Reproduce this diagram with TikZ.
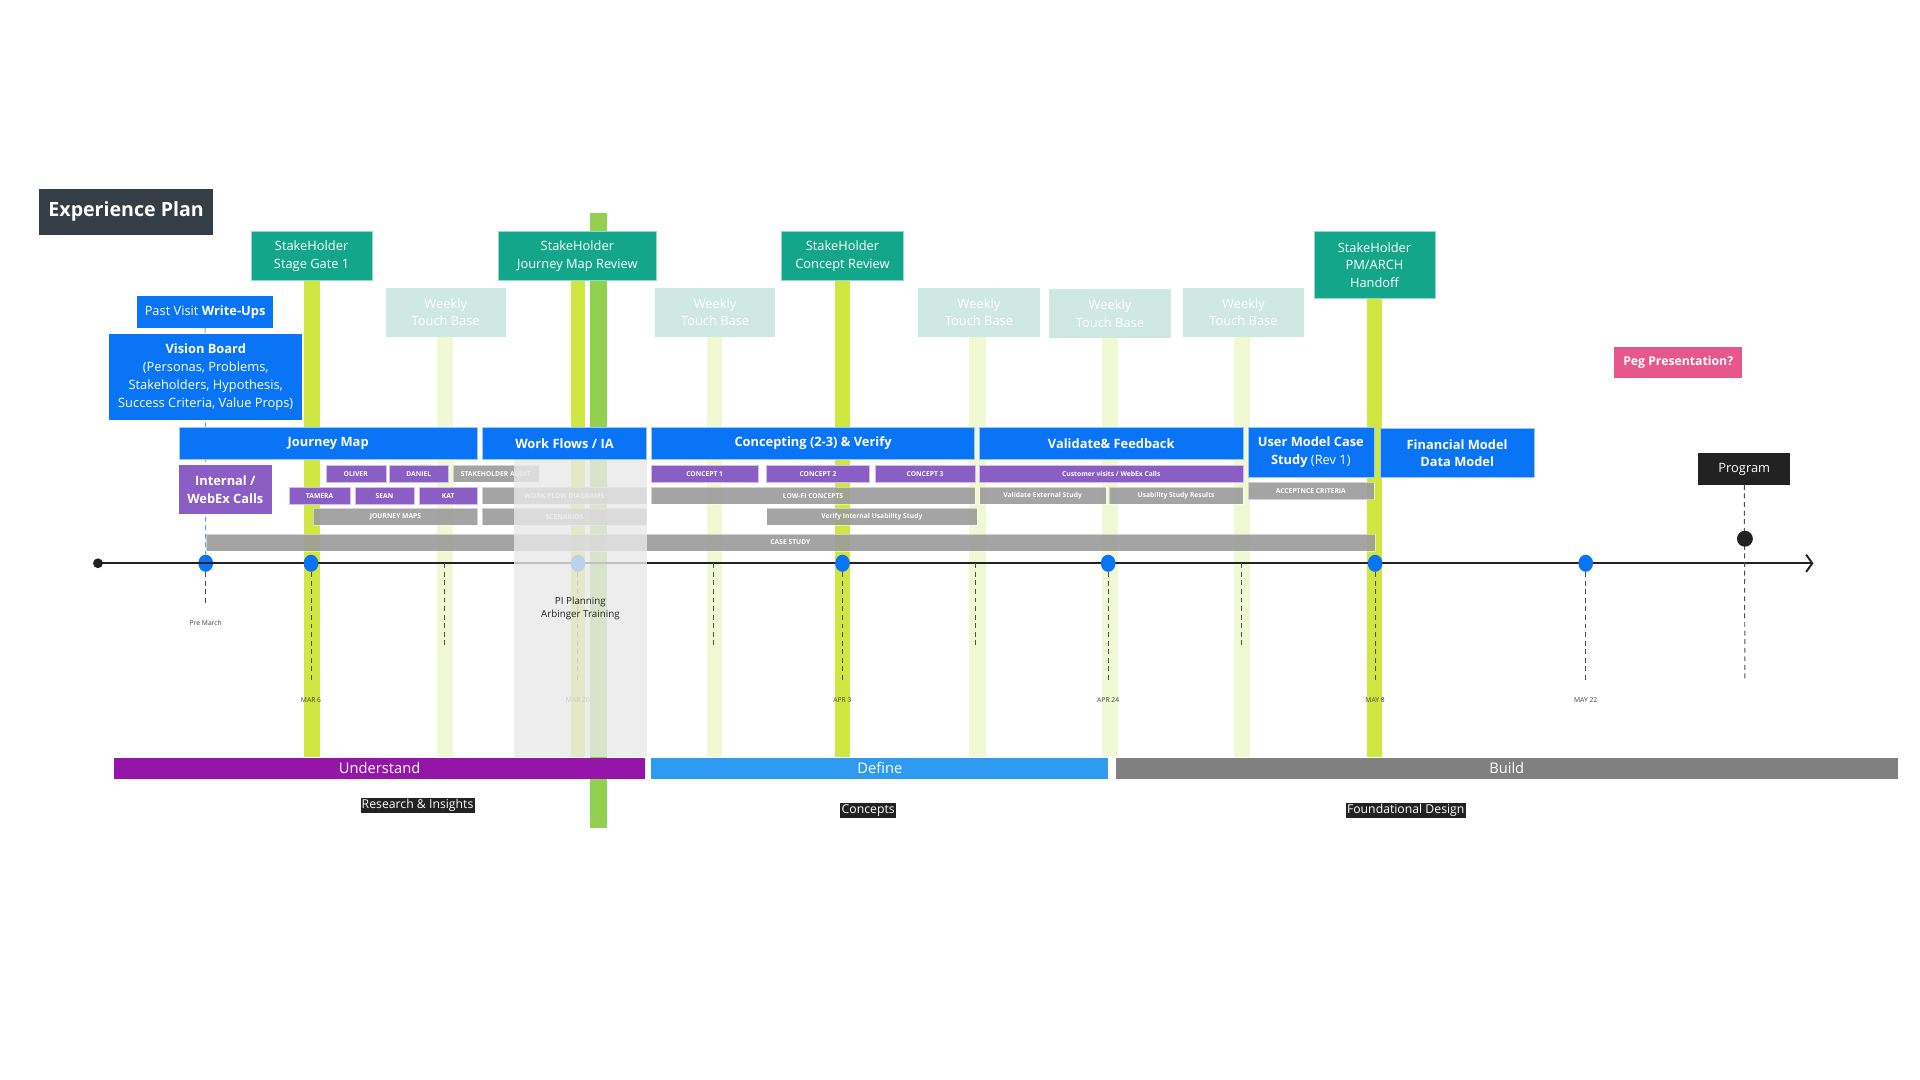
\documentclass[tikz,border=0pt]{standalone}
\usepackage{fontspec}
\setmainfont{Open Sans}
\usetikzlibrary{arrows.meta,shapes.geometric}
\newcommand\myfs[2]{\fontsize{#1}{#2}\selectfont}
\definecolor{slate}{HTML}{353D47}
\definecolor{teal1}{HTML}{13A68A}
\definecolor{paleteal}{HTML}{CFE8E1}
\definecolor{lime1}{HTML}{D1E741}
\definecolor{palebar}{HTML}{F1F8D4}
\definecolor{green1}{HTML}{92D050}
\definecolor{blue1}{HTML}{0A74F7}
\definecolor{purple1}{HTML}{8B5EC6}
\definecolor{gray1}{HTML}{9B9B9B}
\definecolor{pink1}{HTML}{E8578B}
\definecolor{undr}{HTML}{9515A9}
\definecolor{defn}{HTML}{2F9BF0}
\definecolor{bld}{HTML}{808080}
\definecolor{ink}{HTML}{222222}
\definecolor{overlay1}{HTML}{E9E9E9}
\definecolor{dashblue}{HTML}{5C9DF5}
\begin{document}
\begin{tikzpicture}[x=1pt,y=-1pt,
  box/.style={rectangle, inner sep=0pt, outer sep=0pt, anchor=north west, text=white, align=center},
  sgbox/.style={box, fill=teal1, draw=white!55!teal1, line width=0.5pt, font=\myfs{10.5}{14.5}},
  wkbox/.style={box, fill=paleteal, font=\myfs{10.5}{14.5}},
  bluebox/.style={box, fill=blue1, draw=white!60!blue1, line width=0.4pt, font=\myfs{10.5}{14.5}\bfseries},
  purbox/.style={box, fill=purple1, draw=white!60!purple1, line width=0.3pt, font=\myfs{5.5}{7}\bfseries},
  graybox/.style={box, fill=gray1, fill opacity=0.9, text opacity=1, draw=white, draw opacity=0.5, line width=0.3pt, font=\myfs{5.5}{7}\bfseries},
  phase/.style={box, font=\myfs{12}{14}},
  tag/.style={fill=ink, text=white, inner sep=1pt, font=\myfs{10}{12}},
  date/.style={text=ink!85, font=\myfs{5.5}{7}},
  dotb/.style={ellipse, fill=blue1, minimum width=12pt, minimum height=14pt, inner sep=0pt},
  dotk/.style={circle, fill=ink, minimum size=#1, inner sep=0pt},
  dsh/.style={draw=ink!80, line width=0.8pt, dash pattern=on 4pt off 3pt},
  tl/.style={draw=ink, line width=2pt}
]
\useasboundingbox (0,0) rectangle (1568,882);
\fill[white] (0,0) rectangle (1568,882);

% vertical bars
\fill[palebar] (357,275) rectangle (370,618);
\fill[palebar] (577,275) rectangle (590,618);
\fill[palebar] (791,275) rectangle (805,618);
\fill[palebar] (900,276) rectangle (913,618);
\fill[palebar] (1008,275) rectangle (1021,618);
\fill[lime1] (248,229) rectangle (261,618);
\fill[lime1] (466,229) rectangle (478,618);
\fill[green1] (482,174) rectangle (496,676);
\fill[lime1] (682,229) rectangle (694,618);
\fill[lime1] (1116,244) rectangle (1129,618);

% title
\node[box, fill=slate, minimum width=142pt, minimum height=38pt, font=\myfs{16}{18}\bfseries] (title) at (32,154) {Experience Plan};

% stakeholder gates
\node[sgbox, minimum width=99pt, minimum height=40pt] (sg1) at (205,189) {StakeHolder\\Stage Gate 1};
\node[sgbox, minimum width=129pt, minimum height=40pt] (sg2) at (407,189) {StakeHolder\\Journey Map Review};
\node[sgbox, minimum width=100pt, minimum height=40pt] (sg3) at (638,189) {StakeHolder\\Concept Review};
\node[sgbox, minimum width=99pt, minimum height=55pt] (sg4) at (1073,189) {StakeHolder\\PM/ARCH\\Handoff};

% weekly touch bases
\node[wkbox, minimum width=98pt, minimum height=40pt] (wk1) at (315,235) {Weekly\\Touch Base};
\node[wkbox, minimum width=98pt, minimum height=40pt] (wk2) at (535,235) {Weekly\\Touch Base};
\node[wkbox, minimum width=99pt, minimum height=40pt] (wk3) at (750,235) {Weekly\\Touch Base};
\node[wkbox, minimum width=99pt, minimum height=40pt] (wk4) at (857,236) {Weekly\\Touch Base};
\node[wkbox, minimum width=99pt, minimum height=40pt] (wk5) at (966,235) {Weekly\\Touch Base};

% timeline positions
\coordinate (tw1) at (363,460);
\coordinate (tw2) at (583,460);
\coordinate (tw3) at (797,460);
\coordinate (tw5) at (1014,460);
\coordinate (ew1) at (363,527);
\coordinate (ew2) at (583,527);
\coordinate (ew3) at (797,527);
\coordinate (ew5) at (1014,527);
\coordinate (epm) at (168,495);
\coordinate (em6) at (254,555);
\coordinate (em20) at (472,555);
\coordinate (ea3) at (688,555);
\coordinate (ea24) at (905,555);
\coordinate (ey8) at (1123,555);
\coordinate (ey22) at (1295,555);
\coordinate (eprog) at (1425,555);
\coordinate (tend) at (1481,460);

% left boxes
\node[box, fill=blue1, minimum width=111pt, minimum height=26pt, font=\myfs{10.5}{14}] (pv) at (112,242) {Past Visit \textbf{Write-Ups}};
\node[dotb] (dpm) at (168,460) {};
\draw[draw=dashblue, line width=0.8pt, dash pattern=on 4pt off 3pt] (pv.south) -- (dpm.north);
\node[box, fill=blue1, minimum width=158pt, minimum height=70pt, font=\myfs{10.5}{14.7}] (vb) at (89,273) {\textbf{Vision Board}\\(Personas, Problems,\\Stakeholders, Hypothesis,\\Success Criteria, Value Props)};

% phase boxes
\node[bluebox, minimum width=244pt, minimum height=26pt] (jm) at (146,349) {Journey Map};
\node[bluebox, minimum width=134pt, minimum height=26pt] (wf) at (394,349) {Work Flows / IA};
\node[bluebox, minimum width=264pt, minimum height=26pt] (cv) at (532,349) {Concepting (2-3) \& Verify};
\node[bluebox, minimum width=215pt, minimum height=26pt] (vf) at (800,349) {Validate\& Feedback};
\node[bluebox, minimum width=103pt, minimum height=41pt] (um) at (1019,349) {User Model Case\\Study {\mdseries (Rev 1)}};
\node[bluebox, minimum width=126pt, minimum height=40pt] (fm) at (1127,350) {Financial Model\\Data Model};

\node[box, fill=purple1, minimum width=76pt, minimum height=40pt, font=\myfs{10.5}{15}\bfseries] (iw) at (146,380) {Internal /\\WebEx Calls};

% row 1
\node[purbox, minimum width=49pt, minimum height=14pt] (ol) at (266,380) {OLIVER};
\node[purbox, minimum width=48pt, minimum height=14pt] (da) at (318,380) {DANIEL};
\node[graybox, minimum width=70pt, minimum height=14pt] (sa) at (370,380) {STAKEHOLDER AUDIT};
\node[purbox, minimum width=87pt, minimum height=14pt] (c1) at (532,380) {CONCEPT 1};
\node[purbox, minimum width=84pt, minimum height=14pt] (c2) at (626,380) {CONCEPT 2};
\node[purbox, minimum width=81pt, minimum height=14pt] (c3) at (715,380) {CONCEPT 3};
\node[purbox, minimum width=215pt, minimum height=14pt] (cu) at (800,380) {Customer visits / WebEx Calls};
% row 2
\node[purbox, minimum width=50pt, minimum height=14pt] (ta) at (236,398) {TAMERA};
\node[purbox, minimum width=48pt, minimum height=14pt] (se) at (290,398) {SEAN};
\node[purbox, minimum width=48pt, minimum height=14pt] (ka) at (342,398) {KAT};
\node[graybox, minimum width=134pt, minimum height=14pt] (wd) at (394,398) {WORK-FLOW DIAGRAMS};
\node[graybox, minimum width=264pt, minimum height=14pt] (lf) at (532,398) {LOW-FI CONCEPTS};
\node[graybox, minimum width=103pt, minimum height=14pt] (ve) at (800,398) {Validate External Study};
\node[graybox, minimum width=109pt, minimum height=14pt] (us) at (906,398) {Usability Study Results};
\node[graybox, minimum width=103pt, minimum height=14pt] (ac) at (1019,394) {ACCEPTNCE CRITERIA};
% row 3
\node[graybox, minimum width=134pt, minimum height=14pt] (jp) at (256,415) {JOURNEY MAPS};
\node[graybox, minimum width=134pt, minimum height=14pt] (sc) at (394,415) {SCENARIOS};
\node[graybox, minimum width=172pt, minimum height=14pt] (vi) at (626,415) {Verify Internal Usability Study};
% case study
\node[graybox, minimum width=955pt, minimum height=14pt] (cs) at (168,436) {CASE STUDY};

% timeline
\node[dotk=8pt] (t0) at (80,460) {};
\draw[tl, -{Straight Barb[length=5pt,width=14pt,line width=1.6pt]}] (t0.center) -- (tend);

% dots
\node[dotb] (dm6) at (254,460) {};
\node[dotb] (dm20) at (472,460) {};
\node[dotb] (da3) at (688,460) {};
\node[dotb] (da24) at (905,460) {};
\node[dotb] (dy8) at (1123,460) {};
\node[dotb] (dy22) at (1295,460) {};

% dashed drops
\draw[dsh] (dpm.south) -- (epm);
\draw[dsh] (dm6.south) -- (em6);
\draw[dsh] (tw1) -- (ew1);
\draw[dsh] (dm20.south) -- (em20);
\draw[dsh] (tw2) -- (ew2);
\draw[dsh] (da3.south) -- (ea3);
\draw[dsh] (tw3) -- (ew3);
\draw[dsh] (da24.south) -- (ea24);
\draw[dsh] (tw5) -- (ew5);
\draw[dsh] (dy8.south) -- (ey8);
\draw[dsh] (dy22.south) -- (ey22);

% program
\node[box, fill=ink, minimum width=75pt, minimum height=26pt, font=\myfs{10.5}{14}] (prog) at (1387,370) {Program};
\draw[dsh] (prog.south) -- (eprog);
\node[dotk=13pt] (dprog) at (1425,440) {};
\node[box, fill=pink1, minimum width=105pt, minimum height=26pt, font=\myfs{10}{14}\bfseries] (peg) at (1318,283) {Peg Presentation?};

% date labels
\node[date] (lpm) at (168,509) {Pre March};
\node[date] (lm6) at (254,572) {MAR 6};
\node[date] (lm20) at (472,572) {MAR 20};
\node[date] (la3) at (688,572) {APR 3};
\node[date] (la24) at (905,572) {APR 24};
\node[date] (ly8) at (1123,572) {MAY 8};
\node[date] (ly22) at (1295,572) {MAY 22};

% overlay
\fill[overlay1, opacity=0.8] (420,376) rectangle (528,618);

\node[text=ink, align=center, font=\myfs{8}{11}] (pi) at (474,497) {PI Planning\\Arbinger Training};

% phase bars
\node[phase, fill=undr, minimum width=434pt, minimum height=17pt] (und) at (93,619) {Understand};
\node[phase, fill=defn, minimum width=373pt, minimum height=17pt] (def) at (532,619) {Define};
\node[phase, fill=bld, minimum width=639pt, minimum height=17pt] (bl) at (911,619) {Build};

\node[tag] (ri) at (341,658) {Research \& Insights};
\node[tag] (cn) at (709,662) {Concepts};
\node[tag] (fd) at (1148,662) {Foundational Design};
\end{tikzpicture}
\end{document}
